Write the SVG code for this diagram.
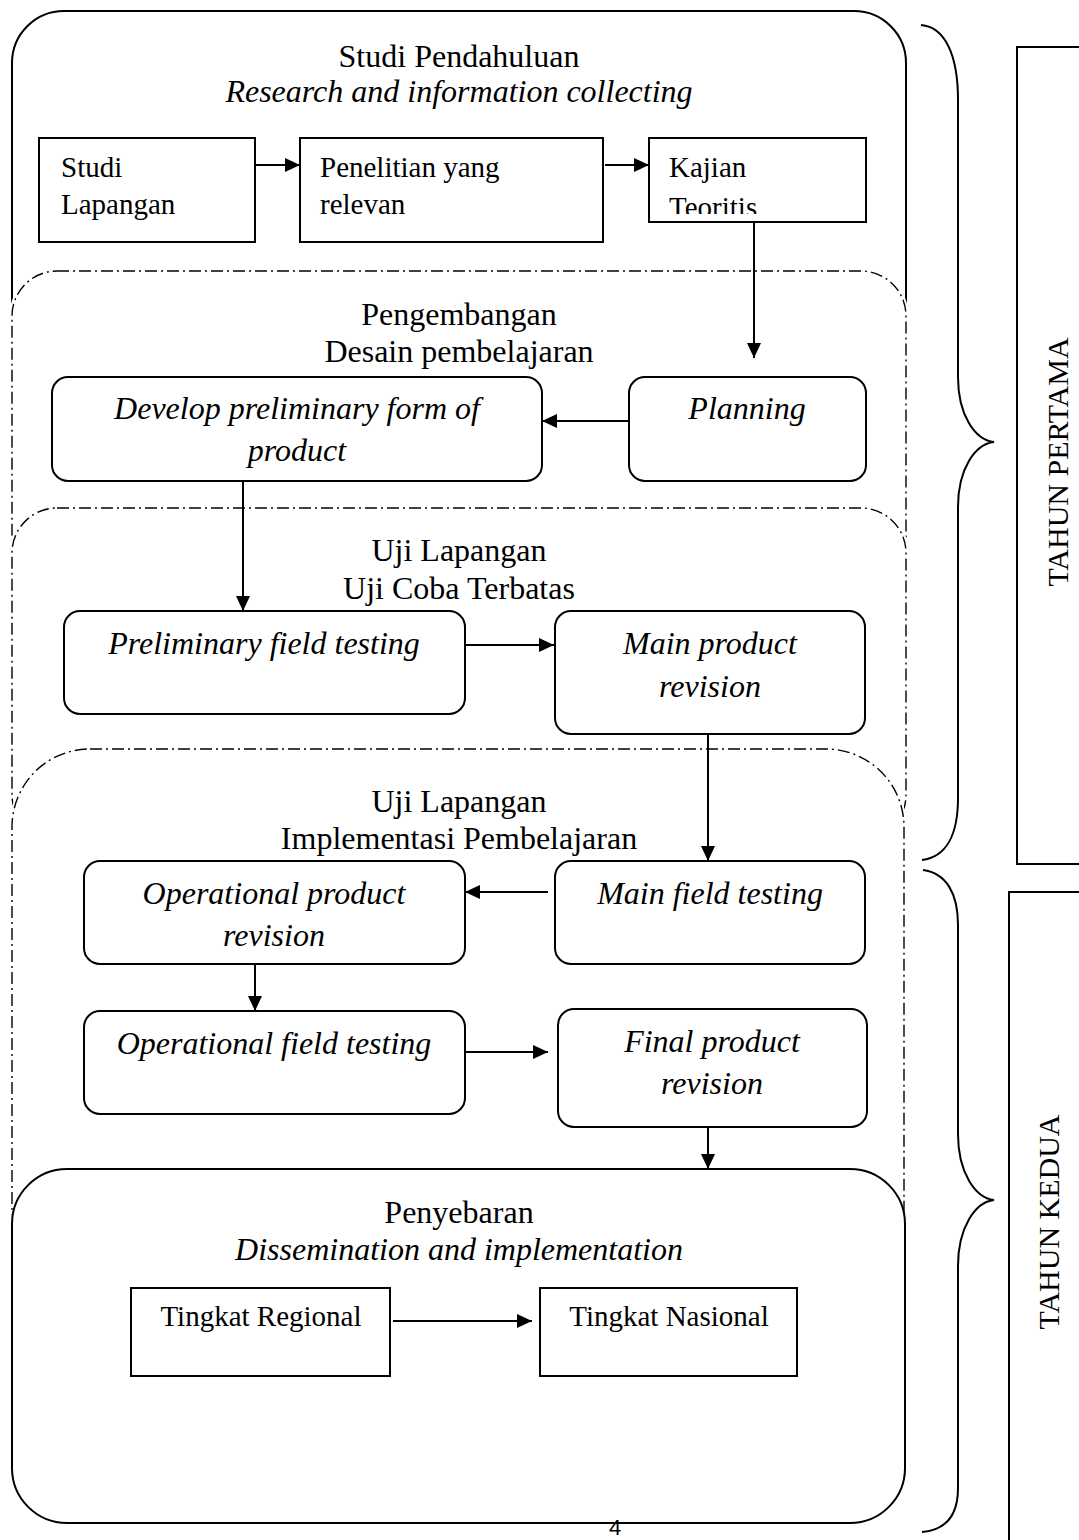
<svg xmlns="http://www.w3.org/2000/svg" width="1079" height="1540" viewBox="0 0 1079 1540">
<style>
.t{font-family:"Liberation Serif","Times New Roman",serif;fill:#000}
.title{font-size:32px;text-anchor:middle}
.it{font-style:italic}
.lbl{font-size:29px}
.nl{font-size:32px;font-style:italic;text-anchor:middle}
.cl{font-size:29px;text-anchor:middle}
.box{fill:#fff;stroke:#000;stroke-width:2}
.solid{fill:#fff;stroke:#000;stroke-width:2}
.cover{fill:#fff;stroke:#fff;stroke-width:5}
.dash{fill:none;stroke:#000;stroke-width:1.4;stroke-dasharray:12 4 2 4}
.conn{fill:none;stroke:#000;stroke-width:2;marker-end:url(#ah)}
.brace{fill:none;stroke:#000;stroke-width:2}
.year{font-size:30px;text-anchor:middle}
</style>
<defs>
<marker id="ah" markerUnits="userSpaceOnUse" markerWidth="15" markerHeight="14" refX="15" refY="7" orient="auto"><path d="M0,0 L15,7 L0,14 z" fill="#000"/></marker>
<clipPath id="kclip"><rect x="649" y="138" width="217" height="76"/></clipPath>
</defs>
<rect width="1079" height="1540" fill="#fff"/>

<g id="stage1">
<rect class="solid" x="12" y="11" width="894" height="352" rx="52"/>
<text class="t title" x="459" y="67">Studi Pendahuluan</text>
<text class="t title it" x="459" y="102">Research and information collecting</text>
</g>
<g id="stage2">
<rect class="cover" x="12" y="271" width="894" height="324" rx="45"/>
<rect class="dash" x="12" y="271" width="894" height="324" rx="45"/>
<text class="t title" x="459" y="325">Pengembangan</text>
<text class="t title" x="459" y="362">Desain pembelajaran</text>
</g>
<g id="stage3">
<rect class="cover" x="12" y="508" width="894" height="332" rx="45"/>
<rect class="dash" x="12" y="508" width="894" height="332" rx="45"/>
<text class="t title" x="459" y="561">Uji Lapangan</text>
<text class="t title" x="459" y="599">Uji Coba Terbatas</text>
</g>
<g id="stage4">
<rect class="cover" x="12" y="749" width="892" height="536" rx="78"/>
<rect class="dash" x="12" y="749" width="892" height="536" rx="78"/>
<text class="t title" x="459" y="812">Uji Lapangan</text>
<text class="t title" x="459" y="849">Implementasi Pembelajaran</text>
</g>
<g id="stage5">
<rect class="solid" x="12" y="1169" width="893" height="354" rx="55"/>
<text class="t title" x="459" y="1223">Penyebaran</text>
<text class="t title it" x="459" y="1260">Dissemination and implementation</text>
</g>

<g id="studi-lapangan">
<rect class="box" x="39" y="138" width="216" height="104"/>
<text class="t lbl" x="61" y="177">Studi</text>
<text class="t lbl" x="61" y="214">Lapangan</text>
</g>
<g id="penelitian">
<rect class="box" x="300" y="138" width="303" height="104"/>
<text class="t lbl" x="320" y="177">Penelitian yang</text>
<text class="t lbl" x="320" y="214">relevan</text>
</g>
<g id="kajian">
<rect class="box" x="649" y="138" width="217" height="84"/>
<text class="t lbl" x="669" y="177">Kajian</text>
<text class="t lbl" x="669" y="217" clip-path="url(#kclip)">Teoritis</text>
</g>

<g id="develop">
<rect class="box" x="52" y="377" width="490" height="104" rx="16"/>
<text class="t nl" x="297" y="419">Develop preliminary form of</text>
<text class="t nl" x="297" y="461">product</text>
</g>
<g id="planning">
<rect class="box" x="629" y="377" width="237" height="104" rx="16"/>
<text class="t nl" x="747" y="419">Planning</text>
</g>

<g id="preliminary-field">
<rect class="box" x="64" y="611" width="401" height="103" rx="16"/>
<text class="t nl" x="264" y="654">Preliminary field testing</text>
</g>
<g id="main-revision">
<rect class="box" x="555" y="611" width="310" height="123" rx="16"/>
<text class="t nl" x="710" y="654">Main product</text>
<text class="t nl" x="710" y="697">revision</text>
</g>

<g id="main-field">
<rect class="box" x="555" y="861" width="310" height="103" rx="16"/>
<text class="t nl" x="710" y="904">Main field testing</text>
</g>
<g id="op-revision">
<rect class="box" x="84" y="861" width="381" height="103" rx="16"/>
<text class="t nl" x="274" y="904">Operational product</text>
<text class="t nl" x="274" y="946">revision</text>
</g>
<g id="op-field">
<rect class="box" x="84" y="1011" width="381" height="103" rx="16"/>
<text class="t nl" x="274" y="1054">Operational field testing</text>
</g>
<g id="final-revision">
<rect class="box" x="558" y="1009" width="309" height="118" rx="16"/>
<text class="t nl" x="712" y="1052">Final product</text>
<text class="t nl" x="712" y="1094">revision</text>
</g>

<g id="regional">
<rect class="box" x="131" y="1288" width="259" height="88"/>
<text class="t cl" x="261" y="1326">Tingkat Regional</text>
</g>
<g id="nasional">
<rect class="box" x="540" y="1288" width="257" height="88"/>
<text class="t cl" x="669" y="1326">Tingkat Nasional</text>
</g>

<g id="connectors">
<path class="conn" d="M255,165 H300"/>
<path class="conn" d="M605,165 H649"/>
<path class="conn" d="M754,222 V358"/>
<path class="conn" d="M629,421 H542"/>
<path class="conn" d="M243,481 V611"/>
<path class="conn" d="M465,645 H554"/>
<path class="conn" d="M708,734 V861"/>
<path class="conn" d="M548,892 H465"/>
<path class="conn" d="M255,964 V1011"/>
<path class="conn" d="M465,1052 H548"/>
<path class="conn" d="M708,1127 V1169"/>
<path class="conn" d="M393,1321 H532"/>
</g>

<g id="tahun-pertama">
<path class="brace" d="M921,25 C945,27 958,55 958,100 V377 C958,415 975,440 994,442 C975,444 958,469 958,507 V798 C958,835 946,857 922,860"/>
<rect x="1017" y="47" width="80" height="817" fill="none" stroke="#000" stroke-width="2"/>
<text class="t year" transform="translate(1068,462) rotate(-90)">TAHUN PERTAMA</text>
</g>
<g id="tahun-kedua">
<path class="brace" d="M923,870 C946,873 958,893 958,925 V1134 C958,1172 975,1198 994,1200 C975,1202 958,1228 958,1266 V1488 C958,1515 946,1530 922,1532"/>
<rect x="1009" y="892" width="90" height="700" fill="none" stroke="#000" stroke-width="2"/>
<text class="t year" transform="translate(1059,1222) rotate(-90)">TAHUN KEDUA</text>
</g>

<text x="615" y="1535" font-family="'Liberation Sans',Arial,sans-serif" font-size="22" text-anchor="middle">4</text>
</svg>
